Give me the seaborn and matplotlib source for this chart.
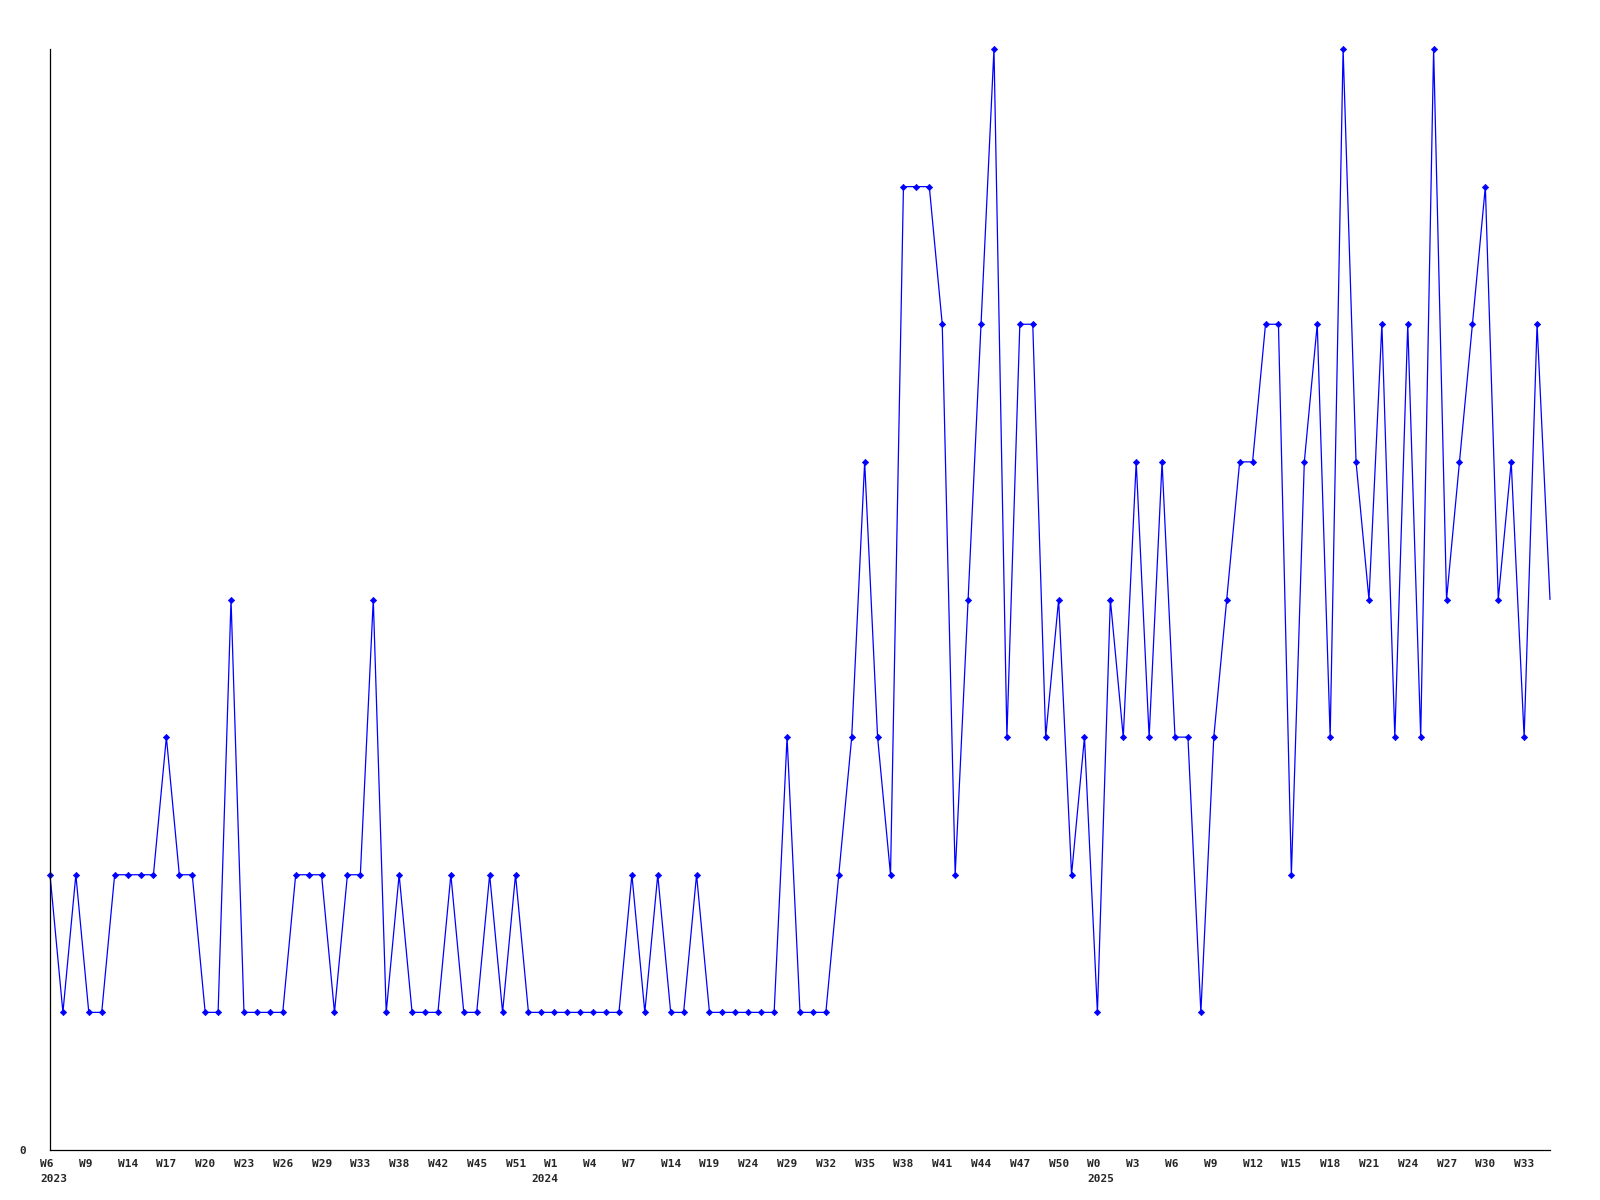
import numpy as np
import pandas as pd
import matplotlib
matplotlib.use("Agg")
import matplotlib.pyplot as plt
import matplotlib.transforms as mtransforms
import seaborn as sns

# ---- data ----
values = [
    2, 1, 2, 1, 1, 2, 2, 2, 2, 3,
    2, 2, 1, 1, 4, 1, 1, 1, 1, 2,
    2, 2, 1, 2, 2, 4, 1, 2, 1, 1,
    1, 2, 1, 1, 2, 1, 2, 1, 1, 1,
    1, 1, 1, 1, 1, 2, 1, 2, 1, 1,
    2, 1, 1, 1, 1, 1, 1, 3, 1, 1,
    1, 2, 3, 5, 3, 2, 7, 7, 7, 6,
    2, 4, 6, 8, 3, 6, 6, 3, 4, 2,
    3, 1, 4, 3, 5, 3, 5, 3, 3, 1,
    3, 4, 5, 5, 6, 6, 2, 5, 6, 3,
    8, 5, 4, 6, 3, 6, 3, 8, 4, 5,
    6, 7, 4, 5, 3, 6, 4,
]
week_labels = [
    "W6", "W9", "W14", "W17", "W20", "W23", "W26", "W29", "W33", "W38",
    "W42", "W45", "W51", "W1", "W4", "W7", "W14", "W19", "W24", "W29",
    "W32", "W35", "W38", "W41", "W44", "W47", "W50", "W0", "W3", "W6",
    "W9", "W12", "W15", "W18", "W21", "W24", "W27", "W30", "W33",
]
label_every = 3
years = ["2023", "2024", "2025"]
year_start_index = [0, 38, 81]

df = pd.DataFrame({"idx": np.arange(len(values)), "value": values})

# ---- style ----
sns.set_style("white")
plt.rcParams["font.family"] = ["DejaVu Sans Mono", "DejaVu Sans"]
plt.rcParams["font.weight"] = "bold"

fig = plt.figure(figsize=(16, 12), dpi=100)
ax = fig.add_axes([50 / 1600, 50 / 1200, 1500 / 1600, 1101 / 1200])

sns.lineplot(
    data=df, x="idx", y="value", ax=ax,
    color="#0000ff", linewidth=0.9,
    marker="D", markersize=3.2, markeredgewidth=0.5,
    markeredgecolor="#0000ff", markerfacecolor="#0000ff",
    markevery=list(range(len(values) - 1)),
    clip_on=False,
)

ax.set_xlim(0, len(values) - 1)
ax.set_ylim(0, 8)
ax.set_xlabel("")
ax.set_ylabel("")

for s in ["top", "right"]:
    ax.spines[s].set_visible(False)
for s in ["left", "bottom"]:
    ax.spines[s].set_color("black")
    ax.spines[s].set_linewidth(0.9)

# x tick labels
tick_pos = list(range(0, len(values), label_every))[: len(week_labels)]
ax.set_xticks(tick_pos)
ax.set_xticklabels(week_labels, fontsize=8, fontweight="bold", ha="left")
ax.tick_params(axis="x", length=0, pad=6.5)
offset = mtransforms.ScaledTranslation(-10 / 100, 0, fig.dpi_scale_trans)
for lab in ax.get_xticklabels():
    lab.set_transform(lab.get_transform() + offset)

# y tick label
ax.set_yticks([0])
ax.set_yticklabels(["0"], fontsize=8, fontweight="bold")
ax.tick_params(axis="y", length=0, pad=17)

# year labels
for yr, i in zip(years, year_start_index):
    ax.annotate(
        yr, xy=(i, 0), xycoords=("data", "axes fraction"),
        xytext=(-10, -29), textcoords="offset pixels",
        ha="left", va="center", fontsize=8, fontweight="bold",
    )

fig.savefig("out.png", dpi=100, facecolor="white")
